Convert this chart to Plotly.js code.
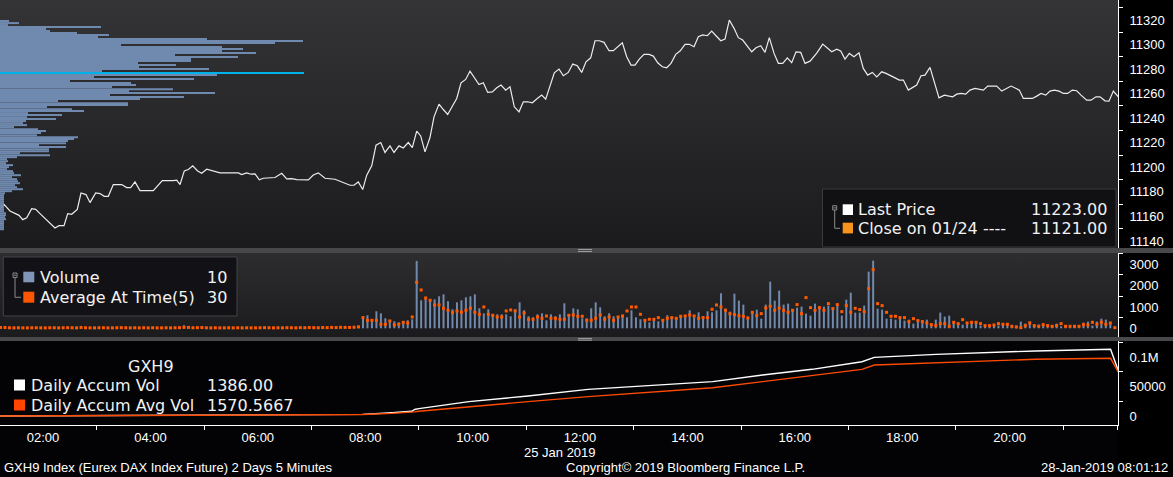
<!DOCTYPE html>
<html><head><meta charset="utf-8">
<script src="https://cdn.plot.ly/plotly-3.0.1.min.js"></script>
<style>
html,body{margin:0;padding:0;background:#000;overflow:hidden;}
#chart{width:1173px;height:477px;
background:
 linear-gradient(#48484a,#48484a) 0 248px/100% 5px no-repeat,
 linear-gradient(#48484a,#48484a) 0 337px/100% 4px no-repeat,
 linear-gradient(#000,#000) 1118px 0/55px 100% no-repeat,
 linear-gradient(to bottom,#343437,#1b1b1e) 0 0/100% 248px no-repeat,
 linear-gradient(to bottom,#2d2d30,#1b1b1e) 0 253px/100% 84px no-repeat,
 #030306;}
</style></head>
<body><div id="chart"></div>
<script>
// ---------- DATA ----------
// price line (time in decimal hours, 25 Jan 2019)
const priceTime = [1.199,1.273,1.385,1.478,1.553,1.622,1.696,1.789,1.864,1.944,2.037,2.130,2.223,2.298,2.391,2.460,2.534,2.638,2.707,2.800,2.875,2.981,3.061,3.141,3.216,3.309,3.465,3.558,3.633,3.713,3.806,4.054,4.221,4.426,4.490,4.551,4.631,4.706,4.788,4.880,4.955,5.048,5.171,5.296,5.637,5.700,5.793,5.873,5.948,6.028,6.102,6.320,6.445,6.538,6.631,6.724,6.940,7.033,7.126,
7.251,7.437,7.586,
7.717,7.791,7.871,7.953,8.028,8.121,8.201,8.289,8.368,8.461,8.536,8.629,8.709,8.802,8.877,8.959,9.033,9.113,9.206,9.281,9.374,9.454,9.536,9.622,9.704,9.784,9.871,9.951,10.031,10.119,10.199,10.281,10.367,10.449,10.529,10.616,10.696,10.776,10.864,10.944,11.026,11.111,11.193,11.286,11.361,11.441,11.521,11.609,11.689,11.782,11.864,11.950,12.031,12.111,12.199,12.279,12.359,12.447,12.540,12.620,12.702,12.788,12.869,12.950,13.024,13.104,13.192,13.285,13.365,13.447,13.532,13.614,13.694,13.782,13.862,13.955,14.035,14.123,14.203,14.285,14.370,14.452,14.532,14.620,14.700,14.780,14.868,
14.948,15.029,15.115,15.197,15.277,15.365,15.445,15.525,15.613,15.693,15.775,15.860,15.942,16.022,16.110,16.190,16.283,16.408,16.519,16.687,16.780,16.854,16.934,17.015,17.102,17.195,17.275,17.357,17.443,17.525,17.618,17.698,17.866,17.946,18.021,18.113,18.270,18.350,18.424,18.517,18.685,18.784,18.940,19.015,19.095,19.182,19.262,19.355,19.510,19.592,19.759,19.853,20.026,20.100,20.181,20.255,20.423,20.505,20.585,20.672,20.752,20.832,20.920,21.000,21.081,21.167,21.249,21.329,21.435,21.515,21.608,21.683,21.776,21.850,21.931,22.024];
const priceVal = [11166.4,11169.9,11164.5,11162.3,11160.9,11157.4,11159.0,11166.4,11165.8,11162.3,11158.2,11154.2,11150.6,11152.5,11152.5,11162.3,11161.8,11165.8,11179.1,11177.8,11171.3,11179.1,11178.6,11176.4,11176.4,11186.0,11186.0,11183.5,11183.5,11188.1,11181.1,11181.1,11189.2,11189.2,11189.5,11186.0,11197.1,11198.2,11201.2,11197.1,11195.2,11198.5,11196.8,11195.5,11195.5,11194.1,11195.5,11194.4,11194.6,11189.8,11191.1,11191.7,11195.2,11190.6,11190.8,11190.0,11189.8,11193.8,11195.5,
11191.1,11190.3,11187.9,
11185.4,11185.4,11188.1,11181.9,11193.6,11201.2,11218.0,11220.2,11212.1,11217.5,11212.1,11217.5,11215.8,11220.2,11216.1,11229.5,11225.6,11212.6,11224.3,11241.1,11251.5,11247.1,11243.1,11249.8,11256.1,11268.9,11271.6,11278.4,11272.9,11267.5,11268.9,11261.0,11261.5,11264.8,11267.0,11262.9,11265.6,11249.3,11245.2,11253.4,11253.4,11252.6,11255.6,11258.8,11255.6,11265.6,11277.0,11280.0,11274.6,11277.3,11284.1,11282.7,11277.3,11286.0,11289.2,11303.1,11303.1,11301.8,11295.0,11295.0,11298.2,11301.5,11290.1,11283.3,11283.3,11288.2,11292.0,11292.0,11290.6,11285.2,11281.9,11281.1,11284.7,11292.0,11294.7,11300.2,11300.2,11298.2,11306.4,11307.8,11307.2,11311.0,11307.2,11303.1,11304.5,11320.0,11313.2,
11305.6,11303.7,11298.8,11294.1,11297.4,11299.0,11293.6,11305.6,11292.8,11284.7,11284.7,11289.2,11285.2,11294.1,11293.6,11284.7,11286.5,11293.0,11300.4,11294.1,11296.3,11294.7,11288.2,11292.8,11290.1,11293.3,11280.6,11275.1,11277.3,11273.7,11277.8,11276.5,11272.9,11271.1,11271.1,11262.9,11267.0,11274.6,11275.1,11281.4,11256.6,11258.8,11257.4,11259.6,11260.2,11259.6,11262.9,11264.3,11262.9,11266.2,11266.2,11262.1,11266.2,11264.8,11262.9,11256.1,11256.1,11258.0,11260.2,11258.8,11262.1,11262.9,11262.1,11260.2,11260.2,11262.9,11262.4,11258.8,11254.7,11254.7,11257.4,11257.4,11254.2,11253.9,11262.1,11257.4];

// volume-at-price profile
const profilePrice = [11319.2,11317.5,11315.9,11314.3,11312.7,11311.0,11309.4,11307.8,11306.1,11304.5,11302.9,11301.2,11299.6,11298.0,11296.4,11294.7,11293.1,11291.5,11289.8,11288.2,11286.6,11284.9,11283.3,11281.7,11280.1,11278.4,11276.8,11275.2,11273.5,11271.9,11270.3,11268.6,11267.0,11265.4,11263.7,11262.1,11260.5,11258.9,11257.2,11255.6,11254.0,11252.3,11250.7,11249.1,11247.4,11245.8,11244.2,11242.6,11240.9,11239.3,11237.7,11236.0,11234.4,11232.8,11231.1,11229.5,11227.9,11226.2,11224.6,11223.0,11221.4,11219.7,11218.1,11216.5,11214.8,11213.2,11211.6,11209.9,11208.3,11206.7,11205.0,11203.4,11201.8,11200.2,11198.5,11196.9,11195.3,11193.6,11192.0,11190.4,11188.7,11187.1,11185.5,11183.8,11182.2,11180.6,11178.9,11177.3,11175.7,11174.1,11172.4,11170.8,11169.2,11167.5,11165.9,11164.3,11162.6,11161.0,11159.4,11157.8,11156.1,11154.5,11152.9,11151.2,11149.6];
const profileVol = [90,190,80,1010,460,500,770,1090,980,2070,3030,2750,1210,2220,2430,2220,2560,1750,2380,1910,1910,1380,1760,1390,2090,1020,3040,2170,940,1940,700,1310,1360,1120,1730,1290,2150,1100,1840,1400,580,1280,1280,470,720,840,280,620,270,560,260,230,270,140,380,460,410,370,780,740,680,660,390,660,490,490,200,500,170,70,80,60,130,90,70,130,140,210,120,170,180,200,150,170,230,120,50,40,40,40,40,40,40,40,40,40,60,60,50,60,40,40,40,40,40];

// 5-minute volume bars (first bar 01:10-01:15)
const volume = [60,30,20,15,25,10,20,15,30,10,20,15,25,10,20,30,15,20,95,20,15,10,25,20,10,15,20,30,15,10,20,15,25,10,20,15,10,20,15,25,30,140,80,20,30,60,20,15,25,10,15,20,10,25,15,20,10,15,20,25,15,10,20,15,25,20,15,30,20,50,25,20,30,25,35,30,40,35,30,40,60,
563,610,422,797,703,469,375,328,281,328,375,422,3157,1313,1422,1360,1360,1500,1594,1266,891,1219,1313,1454,1500,1594,938,703,891,656,656,656,656,563,891,1219,844,563,516,656,703,375,656,563,656,1172,656,938,891,469,469,938,1219,985,563,703,563,563,610,516,844,516,422,422,281,375,328,422,610,516,469,610,610,844,516,750,563,797,750,844,1641,
922,781,1625,1297,1110,547,781,875,453,1110,2188,1297,1766,1110,1157,875,969,1016,688,594,1157,1016,1016,1063,969,1063,594,1344,1672,735,735,1063,2657,3173,922,875,453,453,406,500,359,406,219,406,359,406,172,406,735,547,594,266,266,172,219,313,266,125,125,125,125,125,219,172,125,125,313,219,313,125,172,172,172,125,219,94,125,94,94,125,266,313,125,313,453,406,219,10];
const avgAtTime = [40,35,25,20,25,20,20,25,25,20,20,25,25,20,25,30,25,20,35,25,20,20,25,25,20,20,25,30,25,20,25,20,25,20,25,20,20,25,20,25,30,45,40,25,30,35,25,20,25,20,20,25,20,25,20,25,20,20,25,30,25,20,25,20,30,25,20,30,25,35,30,25,35,30,40,35,45,40,40,50,70,
500,375,375,375,188,188,344,156,188,281,250,531,2157,1797,1422,1313,1094,1094,938,844,735,813,750,844,938,750,656,1000,656,610,531,531,813,860,813,531,719,422,422,531,469,578,469,469,422,422,610,625,563,563,375,375,469,625,422,531,375,531,578,813,1000,1000,656,375,422,422,500,375,469,500,469,563,578,625,578,469,500,500,891,1094,1000,
844,688,641,594,563,485,750,594,688,953,1032,844,953,844,750,844,1110,688,1438,969,844,969,844,1157,922,1110,781,1063,750,938,875,781,1860,2751,1157,1063,750,563,563,500,500,313,453,359,313,250,172,125,219,219,94,281,219,406,250,281,281,219,125,125,156,219,188,188,94,63,31,125,250,125,94,172,125,94,125,219,94,94,94,94,172,156,281,188,281,188,250,30];

// daily accumulated volume
const accumTime = [1.2,4.0,6.0,7.95,8.5,8.87,8.92,9.0,9.93,11.03,12.15,13.55,14.47,15.4,16.32,17.25,17.48,18.63,19.57,20.48,21.88,22.05];
const accumVol = [0,1000,1800,2800,5500,8000,11000,12500,24300,33900,45200,52500,58200,69500,79100,92000,99400,104500,107900,110200,113000,70000];
const accumAvgVol = [0,900,1600,2500,4500,6000,7000,8000,15800,24300,32800,41200,48000,58200,68400,79100,86400,90300,93200,96100,97800,70000];

// axis ticks
const xTickVals = [2,4,6,8,10,12,14,16,18,20];
const xTickText = ['02:00','04:00','06:00','08:00','10:00','12:00','14:00','16:00','18:00','20:00'];
const xMinorVals = [3,5,7,9,11,13,15,17,19,21,22];
const priceTicks = [11140,11160,11180,11200,11220,11240,11260,11280,11300,11320];
const priceTickText = ['11140','11160','11180','11200','11220','11240','11260','11280','11300','11320'];
const priceMinor = [11150,11170,11190,11210,11230,11250,11270,11290,11310,11330];
const volTicks = [0,1000,2000,3000];
const volTickText = ['0','1000','2000','3000'];
const volMinor = [500,1500,2500,3500];
const accTicks = [0,50000,100000];
const accTickText = ['0','50000','0.1M'];
const accMinor = [25000,75000,125000];

// ---------- LAYOUT HELPERS ----------
const W = 1118, H = 425;
const X0 = 1.199, X1 = 22.018;
const PX = x => x / W;
const PY = y => (H - y) / H;
const UI = 'DejaVu Sans, Verdana, sans-serif';
const AX = 'Liberation Sans, Arial, sans-serif';
const TXT = '#f2f2f2';

const barStart = 1 + 12.5/60, barStep = 5/60;
const volTime = volume.map((v,i) => barStart + i*barStep);
const maxIdx = profileVol.indexOf(Math.max(...profileVol));
const profileColors = profileVol.map((v,i) => i === maxIdx ? '#00b2ea' : '#7089ae');
// x position of the tick arrows just right of the axis line
const arrowX = X1 + 4.5 * (X1 - X0) / W;

function arrows(vals, ax){
  return {type:'scatter', mode:'markers', x:vals.map(() => arrowX), y:vals, xaxis:'x', yaxis:ax,
    cliponaxis:false, marker:{symbol:'triangle-right', size:7, color:'#ffffff', line:{width:0}}, hoverinfo:'skip'};
}

const traces = [
  {type:'bar', orientation:'h', x:profileVol, y:profilePrice, xaxis:'x2', yaxis:'y',
   width:1.631, marker:{color:profileColors, line:{width:0}}, hoverinfo:'skip'},
  {type:'scatter', mode:'lines', x:priceTime, y:priceVal, xaxis:'x', yaxis:'y',
   line:{color:'#ececec', width:1.2}},
  {type:'bar', x:volTime, y:volume, xaxis:'x', yaxis:'y2', width:0.037,
   marker:{color:'#7189ad', line:{width:0}}},
  {type:'scatter', mode:'markers', x:volTime, y:avgAtTime, xaxis:'x', yaxis:'y2',
   marker:{symbol:'square', size:3, color:'#ff5a00', line:{width:0}}},
  {type:'scatter', mode:'lines', x:accumTime, y:accumVol, xaxis:'x', yaxis:'y3',
   line:{color:'#ffffff', width:1.4}},
  {type:'scatter', mode:'lines', x:accumTime, y:accumAvgVol, xaxis:'x', yaxis:'y3',
   line:{color:'#ff4a00', width:1.4}},
  arrows(priceTicks,'y'), arrows(volTicks,'y2'), arrows(accTicks,'y3')
];

const yCommon = {side:'right', anchor:'x', showline:true, linecolor:'#ffffff', linewidth:1,
  ticks:'outside', ticklen:8, tickwidth:1, tickcolor:'rgba(0,0,0,0)', tickmode:'array',
  tickfont:{family:AX, size:13, color:'#ffffff'}, showgrid:false, zeroline:false, fixedrange:true};
const minorY = vals => ({tickmode:'array', tickvals:vals, ticks:'outside', ticklen:4, tickwidth:1, tickcolor:'#ffffff'});

function rect(x0,y0,x1,y1,fill,lc,lw){
  return {type:'rect', xref:'paper', yref:'paper', x0:PX(x0), x1:PX(x1), y0:PY(y1), y1:PY(y0),
    fillcolor:fill, line:{color:lc||fill, width:lw||0}, layer:'above'};
}
function seg(x0,y0,x1,y1,c,w){
  return {type:'line', xref:'paper', yref:'paper', x0:PX(x0), x1:PX(x1), y0:PY(y0), y1:PY(y1),
    line:{color:c, width:w||1}, layer:'above'};
}
function ann(text,x,y,anchor,size,family,color){
  return {text:text, xref:'paper', yref:'paper', x:PX(x), y:PY(y), xanchor:anchor, yanchor:'middle',
    showarrow:false, font:{family:family||UI, size:size||16, color:color||TXT}, borderpad:0};
}

const shapes = [
  seg(578,249.5,592,249.5,'#9a9a9a',1), seg(578,251.5,592,251.5,'#9a9a9a',1),
  seg(578,338.5,592,338.5,'#9a9a9a',1), seg(578,340.2,592,340.2,'#9a9a9a',1),
  rect(822.5,189,1116,247,'#111114','#3a3a3d',1),
  rect(832.7,205.7,836.7,210,'rgba(0,0,0,0)','#8a8a8a',1),
  seg(833.5,207.9,836,207.9,'#8a8a8a',1),
  seg(834.7,210,834.7,228.3,'#8a8a8a',1), seg(834.7,228.3,840,228.3,'#8a8a8a',1),
  rect(842.7,204.3,853,215,'#ffffff'),
  rect(842.7,222.7,853,233.4,'#f7941d'),
  rect(3.3,257,237,316,'#121216','#444447',1),
  rect(13,273,17,277.5,'rgba(0,0,0,0)','#8a8a8a',1),
  seg(13.8,275.2,16.3,275.2,'#8a8a8a',1),
  seg(15,277.5,15,297.3,'#8a8a8a',1), seg(15,297.3,21,297.3,'#8a8a8a',1),
  rect(23.3,271.7,34.3,282.3,'#8096b8'),
  rect(23.3,291.7,34.3,302.7,'#ff5500'),
  rect(14,379.5,25,390.5,'#ffffff'),
  rect(14,399.5,25,410.5,'#ff4500')
];

const annotations = [
  ann('Last Price',857,209.7,'left'), ann('11223.00',1108,209.7,'right'),
  ann('Close on 01/24 ----',857,228.3,'left'), ann('11121.00',1108,228.3,'right'),
  ann('Volume',38.5,277.7,'left'), ann('10',228,277.7,'right'),
  ann('Average At Time(5)',38.5,297.3,'left'), ann('30',228,297.3,'right'),
  ann('GXH9',150.5,366,'center'),
  ann('Daily Accum Vol',30,385.7,'left'), ann('1386.00',206,385.7,'left'),
  ann('Daily Accum Avg Vol',30,405,'left'), ann('1570.5667',206,405,'left'),
  ann('25 Jan 2019',560,452,'center',13,AX,'#ffffff'),
  ann('GXH9 Index (Eurex DAX Index Future) 2 Days 5 Minutes',3,468,'left',13,AX,'#ffffff'),
  ann('Copyright\u00a9 2019 Bloomberg Finance L.P.',685,468,'center',13,AX,'#ffffff'),
  ann('28-Jan-2019 08:01:12',1169,468,'right',13,AX,'#ffffff')
];

const layout = {
  width:1173, height:477, margin:{l:0, r:55, t:0, b:52, pad:0},
  paper_bgcolor:'rgba(0,0,0,0)', plot_bgcolor:'rgba(0,0,0,0)',
  showlegend:false, barmode:'overlay', hovermode:false,
  xaxis:{domain:[0,1], range:[X0,X1], anchor:'y3', showline:true, linecolor:'#ffffff', linewidth:1,
    tickmode:'array', tickvals:xTickVals, ticktext:xTickText, ticks:'',
    tickfont:{family:AX, size:13, color:'#ffffff'},
    minor:{tickmode:'array', tickvals:xMinorVals, ticks:'outside', ticklen:4, tickwidth:1, tickcolor:'#ffffff'},
    showgrid:false, zeroline:false, fixedrange:true},
  xaxis2:{overlaying:'x', range:[0,11180], visible:false, anchor:'y', fixedrange:true},
  yaxis:Object.assign({}, yCommon, {domain:[177/425,1], range:[11134.3,11336.3], tickvals:priceTicks, ticktext:priceTickText, minor:minorY(priceMinor)}),
  yaxis2:Object.assign({}, yCommon, {domain:[88/425,172/425], range:[-408,3530], tickvals:volTicks, ticktext:volTickText, minor:minorY(volMinor)}),
  yaxis3:Object.assign({}, yCommon, {domain:[0,84/425], range:[-15250,127100], tickvals:accTicks, ticktext:accTickText, minor:minorY(accMinor)}),
  shapes:shapes, annotations:annotations
};

Plotly.newPlot('chart', traces, layout, {staticPlot:true, displayModeBar:false});
</script>
</body></html>
